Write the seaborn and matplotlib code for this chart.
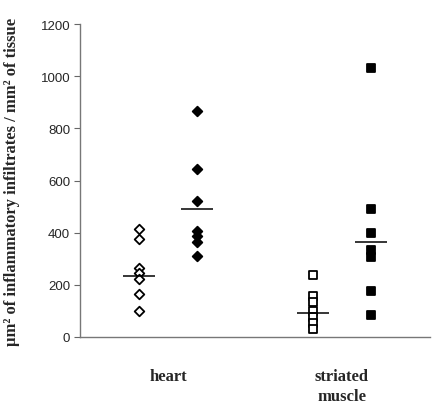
import matplotlib
matplotlib.use("Agg")
import matplotlib.pyplot as plt
import numpy as np
import pandas as pd
import seaborn as sns

# values (um^2 of infiltrate / mm^2 of tissue)
heart_open = [414, 375, 265, 244, 222, 165, 100]
heart_filled = [868, 645, 523, 405, 386, 363, 312]
muscle_open = [237, 157, 135, 100, 75, 52, 30]
muscle_filled = [1030, 490, 400, 335, 305, 176, 84]

group_means = [235, 490, 93, 363]
group_names = ["heart_open", "heart_filled", "muscle_open", "muscle_filled"]
group_pos = [0, 1, 3, 4]

tissue_labels = ["heart", "striated\nmuscle"]
tissue_pos = [0.5, 3.5]
y_ticks = [0, 200, 400, 600, 800, 1000, 1200]

rows = []
for name, pos, vals in zip(group_names, group_pos,
                           [heart_open, heart_filled, muscle_open, muscle_filled]):
    for v in vals:
        rows.append({"group": name, "x": pos, "value": v})
df = pd.DataFrame(rows)

sns.set_style("white")
plt.rcParams["font.family"] = ["Liberation Sans", "DejaVu Sans"]

fig = plt.figure(figsize=(4.4, 4.06), dpi=100)
ax = fig.add_axes([80 / 440, 68 / 406, 350 / 440, 313 / 406])

styles = {
    "heart_open": dict(marker="D", s=24, facecolor="white"),
    "heart_filled": dict(marker="D", s=24, facecolor="black"),
    "muscle_open": dict(marker="s", s=34, facecolor="white"),
    "muscle_filled": dict(marker="s", s=34, facecolor="black"),
}
for name in group_names:
    st = styles[name]
    sns.scatterplot(
        data=df[df["group"] == name], x="x", y="value",
        marker=st["marker"], s=st["s"], color=st["facecolor"],
        edgecolor="black", linewidth=1.3, ax=ax, zorder=3,
    )

for pos, m in zip(group_pos, group_means):
    ax.hlines(m, pos - 0.27, pos + 0.27, color="black", linewidth=1.1, zorder=4)

ax.set_xlim(-1.02, 5.02)
ax.set_ylim(0, 1200)
ax.set_yticks(y_ticks)
ax.set_yticklabels([str(t) for t in y_ticks], fontsize=9.5)
ax.set_xticks(tissue_pos)
ax.set_xticklabels(tissue_labels, fontsize=12, fontweight="bold",
                   family=["Liberation Serif", "DejaVu Serif"], linespacing=1.4)
ax.tick_params(axis="x", length=0, pad=22)
ax.tick_params(axis="y", direction="out", length=4, width=0.8, color="#666666",
               pad=3, left=True)
ax.set_xlabel("")
ax.set_ylabel("\u03bcm\u00b2 of inflammatory infiltrates / mm\u00b2 of tissue",
              fontsize=12, fontweight="bold",
              family=["Liberation Serif", "DejaVu Serif"])
ax.yaxis.set_label_coords(-60 / 350, 0.5)

for side in ["top", "right"]:
    ax.spines[side].set_visible(False)
for side in ["left", "bottom"]:
    ax.spines[side].set_color("#777777")
    ax.spines[side].set_linewidth(1.0)
ax.grid(False)

fig.savefig("out.png", dpi=100)
